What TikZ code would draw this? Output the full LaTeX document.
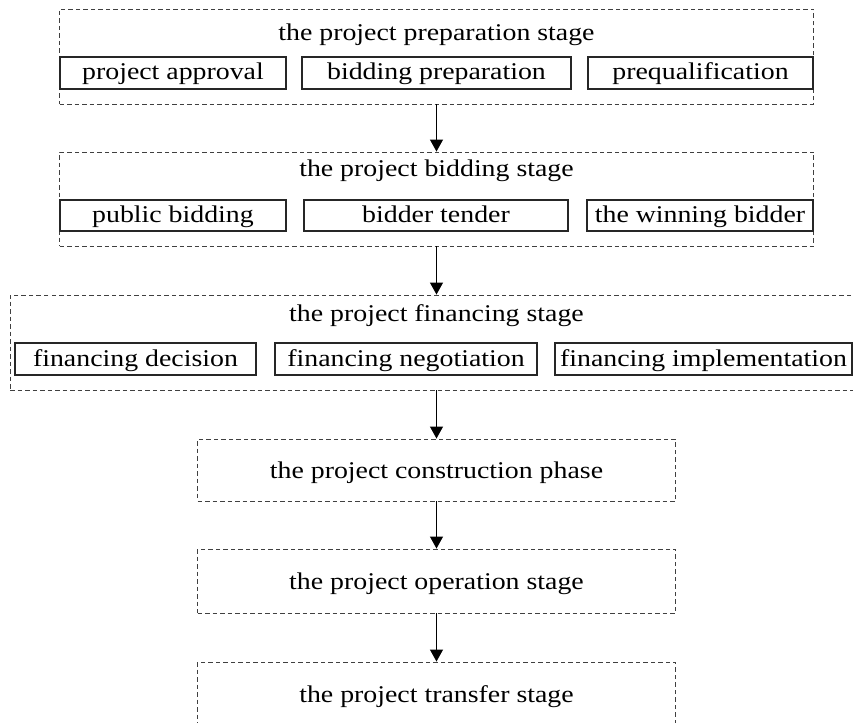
\documentclass[tikz,border=0pt]{standalone}
\usepackage{fontspec}
\setmainfont{Liberation Serif}[FakeStretch=1.16]
\usepackage{tikz}
\usetikzlibrary{arrows.meta}

\tikzset{
  stage/.style={draw=black!75, line width=0.9pt, dash pattern=on 4.5pt off 3pt, inner sep=0pt},
  phase/.style={stage, minimum width=478pt, text height=17pt, text depth=1pt},
  task/.style={draw=black!85, line width=1.1pt, inner sep=0pt, minimum height=32pt, text height=17pt, text depth=3pt},
  title/.style={anchor=base, inner sep=0pt},
  flow/.style={line width=1.2pt, -{Triangle[length=12pt, width=13pt]}}
}

\begin{document}
\begin{tikzpicture}[x=1pt, y=-1pt, font=\fontsize{24}{28}\selectfont]
\path[use as bounding box, clip] (0,0) rectangle (853,722);

\node(A)[stage, minimum width=754pt, minimum height=95pt] at (436.5,56.5) {};
\node(tA)[title] at (436.5,41) {the project preparation stage};
\node(a)[task, minimum width=226pt] at (173,73) {project approval};
\node(b)[task, minimum width=269pt] at (436.5,73) {bidding preparation};
\node(c)[task, minimum width=225pt] at (700.5,73) {prequalification};

\node(B)[stage, minimum width=754pt, minimum height=94pt] at (436.5,199) {};
\node(tB)[title] at (436.5,177) {the project bidding stage};
\node(d)[task, minimum width=226pt, minimum height=31pt] at (173,215.5) {public bidding};
\node(e)[task, minimum width=264pt, minimum height=31pt] at (436,215.5) {bidder tender};
\node(f)[task, minimum width=226pt, minimum height=31pt] at (700,215.5) {the winning bidder};

\node(C)[stage, minimum width=853pt, minimum height=95pt] at (436.5,342.5) {};
\node(tC)[title] at (436.5,321) {the project financing stage};
\node(g)[task, minimum width=241pt] at (135.5,359) {financing decision};
\node(h)[task, minimum width=262pt] at (406,359) {financing negotiation};
\node(i)[task, minimum width=297pt] at (703.5,359) {financing implementation};

\node(D)[phase, minimum height=62pt] at (436.5,470) {the project construction phase};
\node(E)[phase, minimum height=64pt] at (436.5,581) {the project operation stage};
\node(F)[phase, minimum height=64pt] at (436.5,694) {the project transfer stage};

\draw[flow] (A) -- (B);
\draw[flow] (B) -- (C);
\draw[flow] (C) -- (D);
\draw[flow] (D) -- (E);
\draw[flow] (E) -- (F);
\end{tikzpicture}
\end{document}
